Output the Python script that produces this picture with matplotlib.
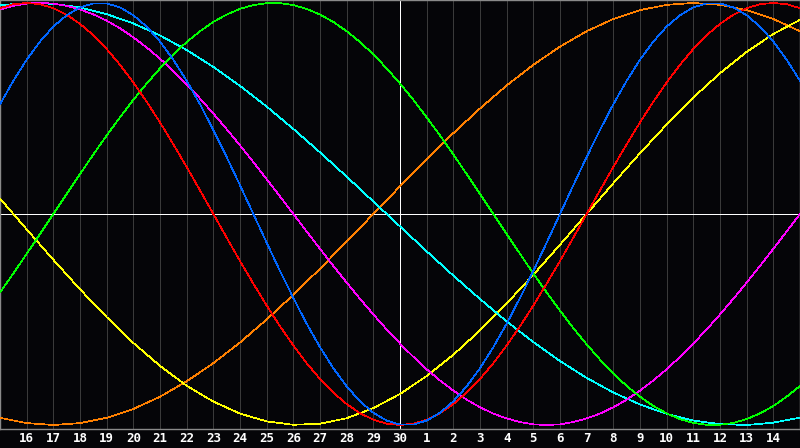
import numpy as np
import matplotlib
matplotlib.use("Agg")
import matplotlib.pyplot as plt

# day labels under the grid lines (k = 1..29)
day_labels = ["16", "17", "18", "19", "20", "21", "22", "23", "24", "25",
              "26", "27", "28", "29", "30", "1", "2", "3", "4", "5",
              "6", "7", "8", "9", "10", "11", "12", "13", "14"]

# fast cycles, read every half day (k = 0, 0.5, ... 30)
physical = [0.520, 0.631, 0.731, 0.817, 0.888, 0.942, 0.979, 0.998, 0.998, 0.979,
            0.942, 0.888, 0.817, 0.731, 0.631, 0.520, 0.398, 0.270, 0.136, 0.000,
            -0.136, -0.270, -0.398, -0.520, -0.631, -0.731, -0.817, -0.888, -0.942, -0.979,
            -0.998, -0.998, -0.979, -0.942, -0.888, -0.817, -0.731, -0.631, -0.520, -0.398,
            -0.270, -0.136, 0.000, 0.136, 0.270, 0.398, 0.520, 0.631, 0.731, 0.817,
            0.888, 0.942, 0.979, 0.998, 0.998, 0.979, 0.942, 0.888, 0.817, 0.731, 0.631]
emotional = [0.975, 0.994, 1.000, 0.994, 0.975, 0.944, 0.901, 0.847, 0.782, 0.707,
             0.623, 0.532, 0.434, 0.330, 0.223, 0.112, 0.000, -0.112, -0.223, -0.330,
             -0.434, -0.532, -0.623, -0.707, -0.782, -0.847, -0.901, -0.944, -0.975, -0.994,
             -1.000, -0.994, -0.975, -0.944, -0.901, -0.847, -0.782, -0.707, -0.623, -0.532,
             -0.434, -0.330, -0.223, -0.112, 0.000, 0.112, 0.223, 0.330, 0.434, 0.532,
             0.623, 0.707, 0.782, 0.847, 0.901, 0.944, 0.975, 0.994, 1.000, 0.994, 0.975]
intellectual = [-0.372, -0.282, -0.189, -0.095, 0.000, 0.095, 0.189, 0.282, 0.372, 0.458,
                0.541, 0.618, 0.690, 0.756, 0.815, 0.866, 0.910, 0.945, 0.972, 0.990,
                0.999, 0.999, 0.990, 0.972, 0.945, 0.910, 0.866, 0.815, 0.756, 0.690,
                0.618, 0.541, 0.458, 0.372, 0.282, 0.189, 0.095, 0.000, -0.095, -0.189,
                -0.282, -0.372, -0.458, -0.541, -0.618, -0.690, -0.756, -0.815, -0.866, -0.910,
                -0.945, -0.972, -0.990, -0.999, -0.999, -0.990, -0.972, -0.945, -0.910, -0.866, -0.815]
intuitive = [0.969, 0.986, 0.997, 1.000, 0.997, 0.986, 0.969, 0.946, 0.916, 0.880,
             0.837, 0.789, 0.736, 0.677, 0.614, 0.547, 0.476, 0.402, 0.325, 0.246,
             0.165, 0.083, 0.000, -0.083, -0.165, -0.246, -0.325, -0.402, -0.476, -0.547,
             -0.614, -0.677, -0.736, -0.789, -0.837, -0.880, -0.916, -0.946, -0.969, -0.986,
             -0.997, -1.000, -0.997, -0.986, -0.969, -0.946, -0.916, -0.880, -0.837, -0.789,
             -0.736, -0.677, -0.614, -0.547, -0.476, -0.402, -0.325, -0.246, -0.165, -0.083, 0.000]

# slow cycles, read every day (k = 0..30)
aesthetic = [0.073, -0.073, -0.217, -0.357, -0.489, -0.611, -0.720, -0.814, -0.889, -0.946,
             -0.983, -0.999, -0.994, -0.968, -0.920, -0.853, -0.768, -0.667, -0.552, -0.424,
             -0.288, -0.146, 0.000, 0.146, 0.288, 0.424, 0.552, 0.667, 0.768, 0.853, 0.920]
awareness = [-0.966, -0.991, -1.000, -0.991, -0.966, -0.924, -0.866, -0.793, -0.707, -0.609,
             -0.500, -0.383, -0.259, -0.131, 0.000, 0.131, 0.259, 0.383, 0.500, 0.609,
             0.707, 0.793, 0.866, 0.924, 0.966, 0.991, 1.000, 0.991, 0.966, 0.924, 0.866]
spiritual = [0.989, 1.000, 0.996, 0.979, 0.947, 0.903, 0.846, 0.777, 0.697, 0.607,
             0.509, 0.403, 0.292, 0.177, 0.059, -0.059, -0.177, -0.292, -0.403, -0.509,
             -0.607, -0.697, -0.777, -0.846, -0.903, -0.947, -0.979, -0.996, -1.000, -0.989, -0.965]

series = [
    (awareness, "#ff8000"),
    (aesthetic, "#ffff00"),
    (spiritual, "#00ffff"),
    (intuitive, "#ff00ff"),
    (intellectual, "#00ff00"),
    (emotional, "#ff0000"),
    (physical, "#0066ff"),
]


def main():
    lw = 0.5
    fig = plt.figure(figsize=(8, 4.48), dpi=100, facecolor="#050508")
    ax = fig.add_axes([0, 19 / 448, 1, 429 / 448])
    ax.set_facecolor("#050508")

    for k in range(1, 30):
        if k != 15:
            ax.axvline(k, color="#3a3a3a", lw=lw, antialiased=False, zorder=1)

    for values, color in series:
        x = np.linspace(0, 30, len(values))
        ax.plot(x, values, color=color, lw=lw, antialiased=False, zorder=3)

    ax.axhline(0, color="white", lw=lw, antialiased=False, zorder=2)
    ax.axvline(15, color="white", lw=lw, antialiased=False, zorder=2)

    ax.set_xlim(0, 30)
    ax.set_ylim(-1.019, 1.014)
    ax.set_yticks([])
    ax.set_xticks(range(1, 30))
    ax.set_xticklabels(day_labels, family="DejaVu Sans Mono", fontweight="bold",
                       fontsize=9, color="white")
    ax.tick_params(axis="x", length=0, pad=2.5)
    for s in ax.spines.values():
        s.set_color("#8a8a8a")
        s.set_linewidth(1)

    fig.savefig("out.png", dpi=100, facecolor=fig.get_facecolor())


if __name__ == "__main__":
    main()
